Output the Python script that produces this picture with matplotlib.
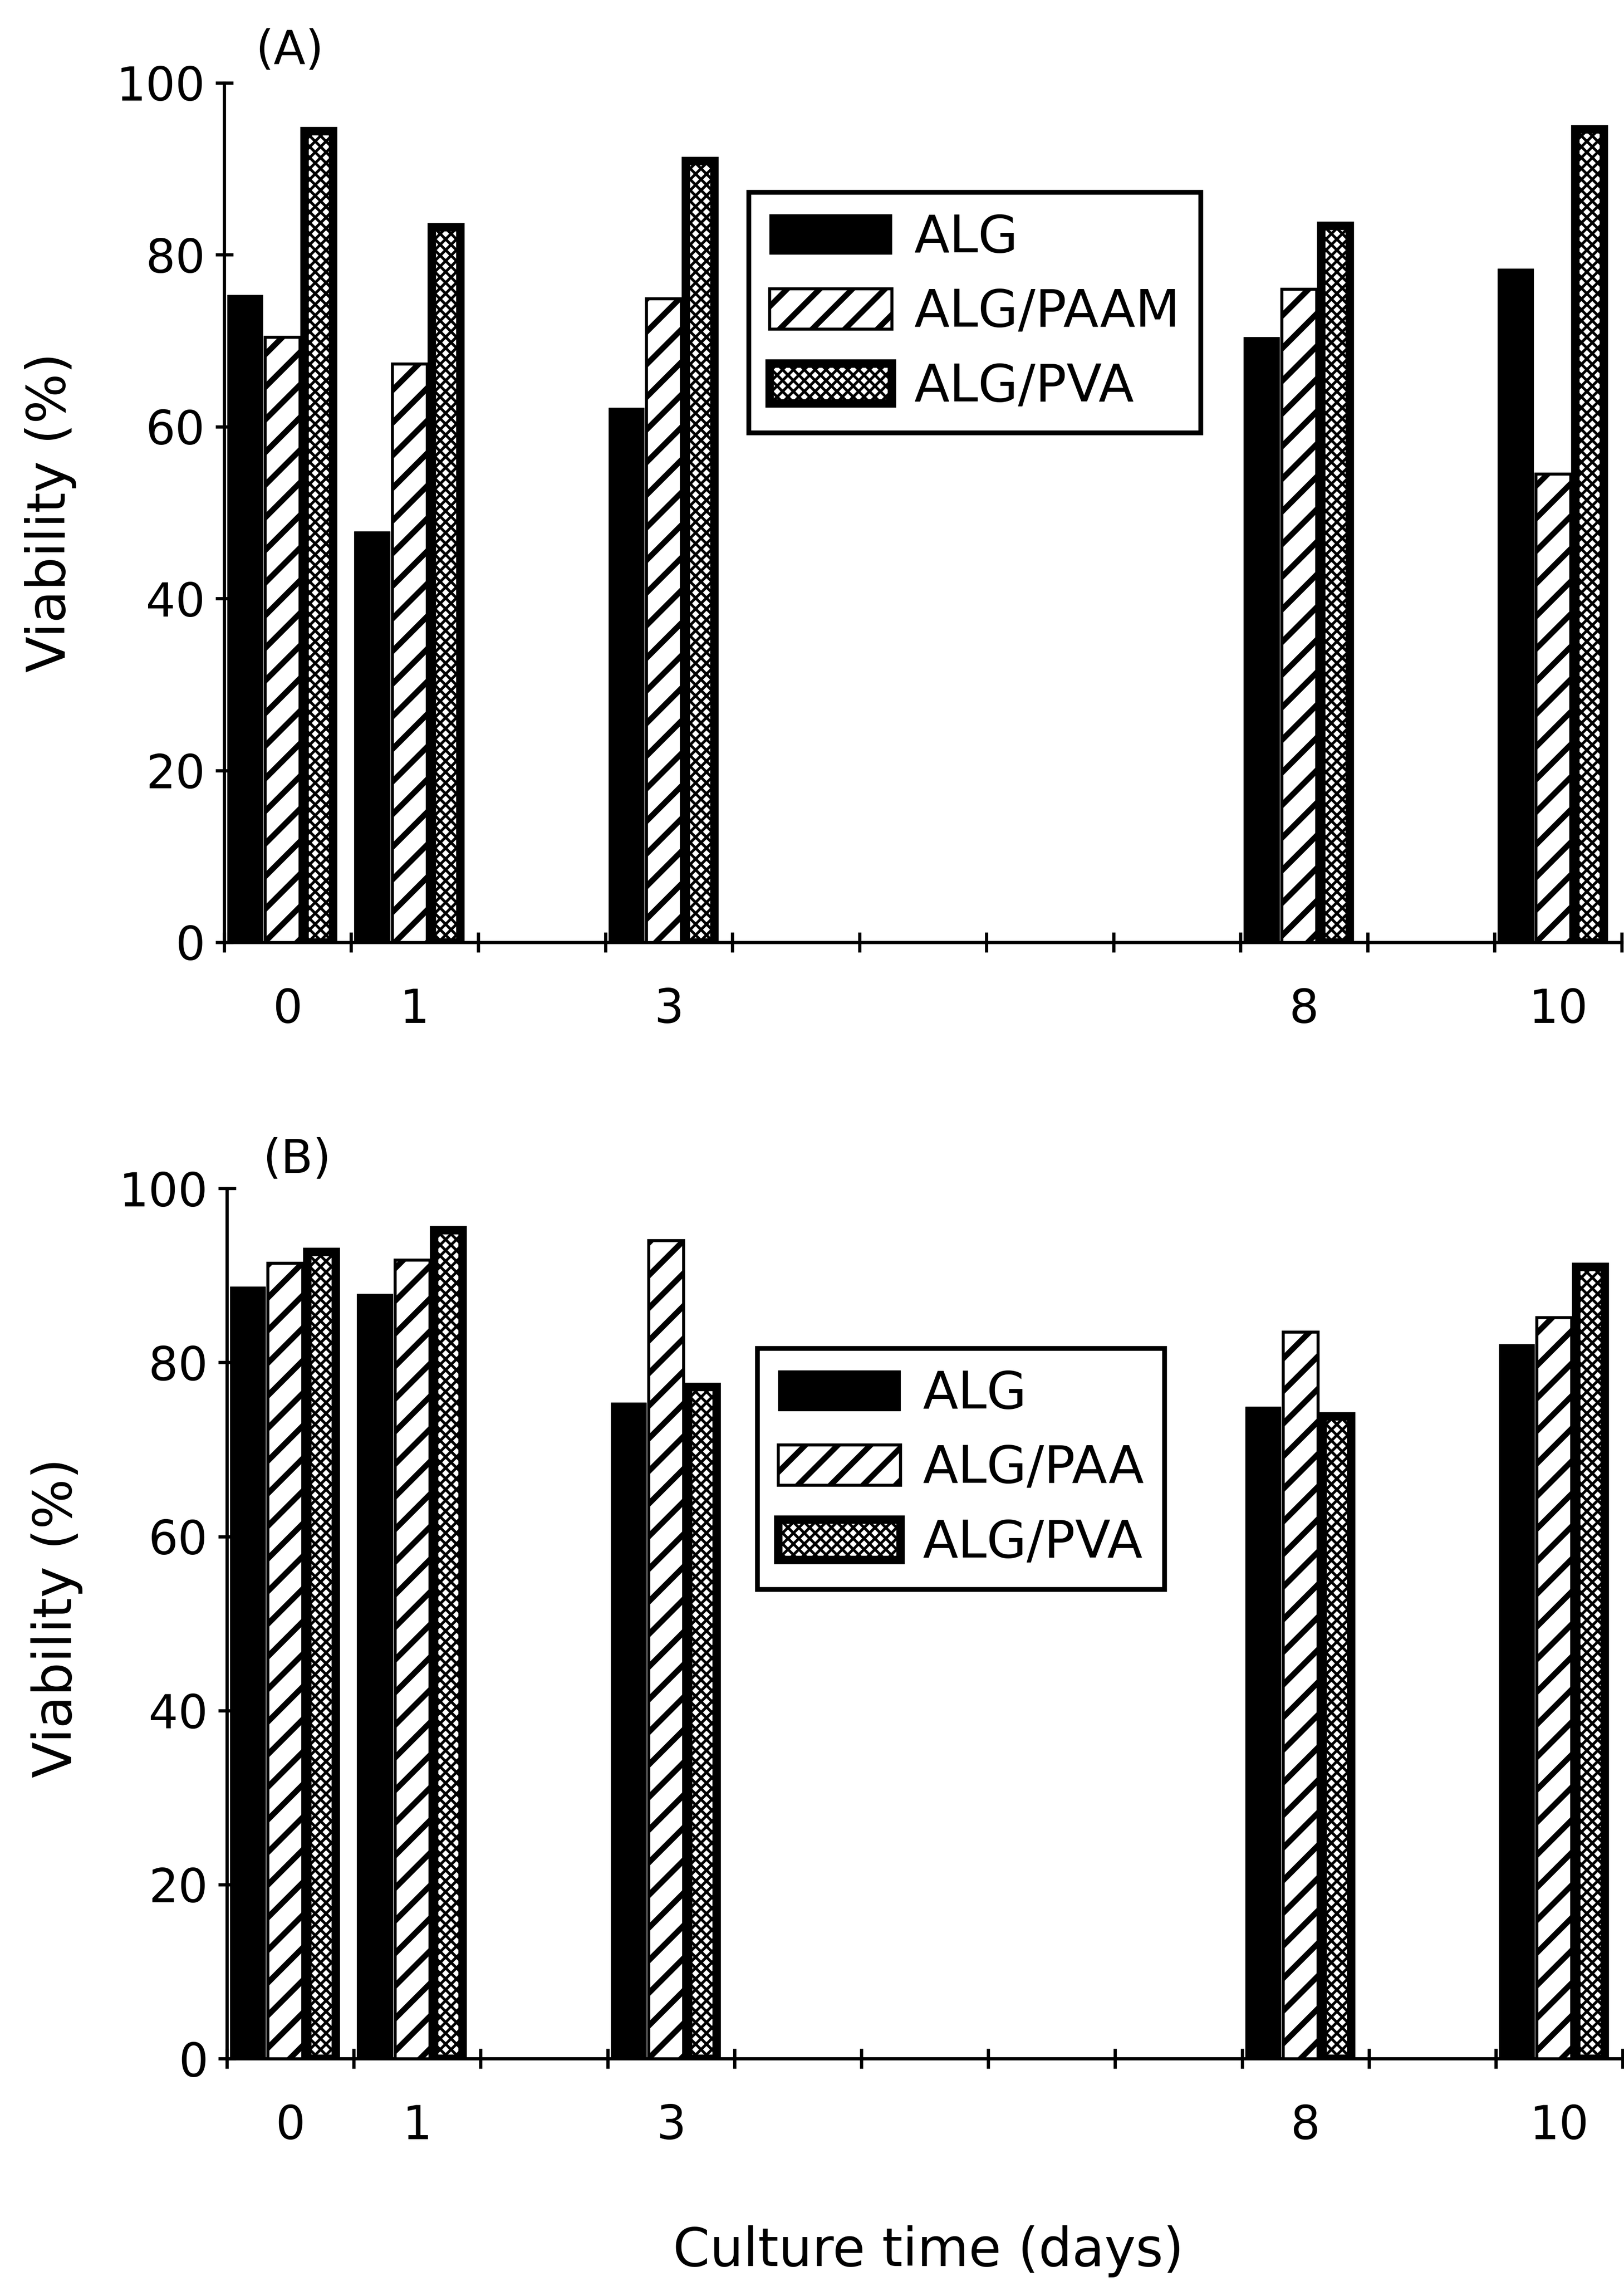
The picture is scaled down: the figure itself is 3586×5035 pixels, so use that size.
#!/usr/bin/env python
"""Cell viability of immobilised beads over the culture period.

Two stacked panels, (A) and (B), each a grouped bar chart of viability (%) on
culture days 0, 1, 3, 8 and 10 for plain alginate beads and two blended bead
types. The day axis is a slot per day (0..10) so the gaps between sampling days
keep their real spacing; ticks sit on the slot edges, labels in the slot middle.
"""

import numpy as np
import matplotlib.pyplot as plt

# --- data -------------------------------------------------------------------
DAYS = [0, 1, 3, 8, 10]
Y_TICKS = [0, 20, 40, 60, 80, 100]

# panel (A)
A_LABELS = ["ALG", "ALG/PAAM", "ALG/PVA"]
A_ALG = [75.3, 47.8, 62.2, 70.4, 78.4]
A_PAAM = [70.4, 67.3, 74.9, 76.0, 54.5]
A_PVA = [94.4, 83.2, 90.9, 83.4, 94.6]

# panel (B)
B_LABELS = ["ALG", "ALG/PAA", "ALG/PVA"]
B_ALG = [88.7, 87.9, 75.4, 74.9, 82.1]
B_PAAM = [91.4, 91.8, 94.0, 83.5, 85.2]
B_PVA = [92.7, 95.2, 77.2, 73.8, 91.0]

# --- presentation -----------------------------------------------------------
# 216 dpi so a single "/" hatch gives stripes ~36 px apart
DPI = 216
FIGSIZE = (3586 / DPI, 5035 / DPI)
TICK_FS = 34.3
LABEL_FS = 38.9
LEGEND_FS = 38.0
AXIS_LW = 2.4

# one style per bead type: (offset from slot centre, width, face, hatch, edge lw, hatch lw)
BAR_STYLE = [
    (-0.335, 0.28, "black", None, 0.4, 1.0),
    (-0.040, 0.275, "white", "/", 2.2, 4.2),
    (0.245, 0.225, "white", "xxx", 6.2, 2.0),
]


def _style_patch(patch, hatch, lw, hatch_lw):
    patch.set_edgecolor("black")
    patch.set_linewidth(lw)
    patch.set_hatch(hatch)
    patch.set_hatch_linewidth(hatch_lw)


def draw_panel(ax, series, labels, legend_xy, fig):
    """Grouped bars for one panel plus its boxed legend."""
    x = np.asarray(DAYS, dtype=float)
    handles = []
    for values, label, (off, w, face, hatch, lw, hlw) in zip(series, labels, BAR_STYLE):
        bars = ax.bar(x + off, values, width=w, facecolor=face, edgecolor="black",
                      linewidth=lw, hatch=hatch, label=label, zorder=3)
        for b in bars:
            b.set_hatch_linewidth(hlw)
        handles.append(bars)

    ax.set_xlim(-0.5, 10.5)
    ax.set_ylim(0, 100)
    ax.spines["top"].set_visible(False)
    ax.spines["right"].set_visible(False)
    for s in ("left", "bottom"):
        ax.spines[s].set_linewidth(AXIS_LW)

    ax.set_yticks(Y_TICKS)
    ax.tick_params(axis="y", direction="inout", length=13, width=AXIS_LW, pad=7.4,
                   labelsize=TICK_FS)
    # slot edges carry the tick marks, slot centres carry the day labels
    ax.set_xticks(np.arange(-0.5, 11.0, 1.0))
    ax.set_xticklabels([])
    ax.set_xticks(DAYS, minor=True)
    ax.set_xticklabels([str(d) for d in DAYS], minor=True)
    ax.tick_params(axis="x", which="major", direction="inout", length=14.8,
                   width=AXIS_LW)
    ax.tick_params(axis="x", which="minor", length=0, pad=33, labelsize=TICK_FS)

    leg = ax.legend(handles=handles, labels=labels, loc="upper left",
                    bbox_to_anchor=legend_xy, bbox_transform=fig.transFigure,
                    borderaxespad=0, fontsize=LEGEND_FS, frameon=True,
                    fancybox=False, framealpha=1, edgecolor="black",
                    handlelength=2.37, handleheight=0.82, handletextpad=0.43,
                    labelspacing=0.47, borderpad=0.4)
    leg.get_frame().set_linewidth(3.5)
    for lp, (off, w, face, hatch, lw, hlw) in zip(leg.get_patches(), BAR_STYLE):
        _style_patch(lp, hatch, lw, hlw)
    return leg


def main():
    plt.rcParams["font.family"] = ["DejaVu Sans"]
    fig = plt.figure(figsize=FIGSIZE, dpi=DPI)

    ax_a = fig.add_axes([0.1380, 0.5869, 0.8606, 0.3768])
    ax_b = fig.add_axes([0.1397, 0.0975, 0.8595, 0.3815])

    draw_panel(ax_a, [A_ALG, A_PAAM, A_PVA], A_LABELS, (0.4610, 0.9158), fig)
    draw_panel(ax_b, [B_ALG, B_PAAM, B_PVA], B_LABELS, (0.4663, 0.4089), fig)

    fig.text(0.1782, 0.9776, "(A)", fontsize=TICK_FS, ha="center", va="center")
    fig.text(0.1829, 0.4914, "(B)", fontsize=TICK_FS, ha="center", va="center")
    fig.text(0.0312, 0.7754, "Viability (%)", fontsize=LABEL_FS, rotation=90,
             ha="center", va="center")
    fig.text(0.0349, 0.2908, "Viability (%)", fontsize=LABEL_FS, rotation=90,
             ha="center", va="center")
    fig.text(0.5717, 0.0066, "Culture time (days)", fontsize=LABEL_FS,
             ha="center", va="baseline")

    fig.savefig("out.png", dpi=DPI, facecolor="white")
    plt.close(fig)


if __name__ == "__main__":
    main()
